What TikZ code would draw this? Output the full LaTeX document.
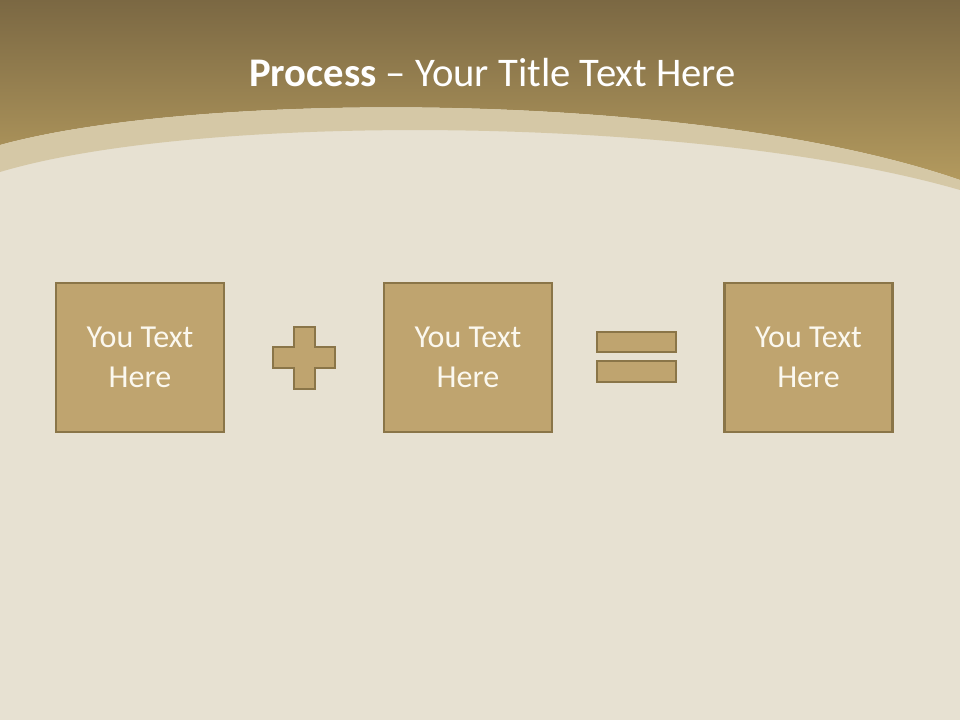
\documentclass[tikz,border=0pt]{standalone}
\usepackage{fontspec}
\setmainfont{Carlito}
\usepackage{xcolor}
\usepackage{tikz}
\usetikzlibrary{positioning,calc}

\definecolor{sand}{HTML}{E7E1D2}
\definecolor{band}{HTML}{D5C8A6}
\definecolor{headtop}{HTML}{7B6843}
\definecolor{headbot}{HTML}{B39A5E}
\definecolor{boxfill}{HTML}{BFA46F}
\definecolor{boxline}{HTML}{8A7548}
\definecolor{boxtext}{HTML}{FBF8EF}

\begin{document}
\begin{tikzpicture}[
  x=0.75pt, y=-0.75pt,
  textbox/.style = {rectangle, draw=boxline, fill=boxfill, line width=1.6pt,
                    minimum width=126pt, minimum height=111.75pt, inner sep=0pt,
                    font=\fontsize{24}{30}\selectfont, text=boxtext, align=center,
                    execute at begin node=\rule{0pt}{24pt}},
  symbol/.style  = {draw=boxline, fill=boxfill, line width=1.6pt},
  title/.style   = {font=\fontsize{30.5}{36}\selectfont, text=white, anchor=base}
]
% background and header
\fill[sand] (0,0) rectangle (960,720);
\shade[top color=headtop, bottom color=headbot]
  (0,0) -- (960,0) -- (960,180) .. controls (700,90) and (200,90) .. (0,145) -- cycle;
\fill[band]
  (0,145) .. controls (200,90) and (700,90) .. (960,180) -- (960,190)
  .. controls (700,115) and (200,112) .. (0,172) -- cycle;
\useasboundingbox (0,0) rectangle (960,720);

\node[title] (head) at (492.5,87) {\textbf{Process} -- Your Title Text Here};

\node[textbox] (first)  at (140,357.5)   {You Text\\Here};
\node[textbox] (second) at (468,357.5)   {You Text\\Here};
\node[textbox] (result) at (808.5,357.5) {You Text\\Here};

% plus sign
\draw[symbol] (294,327) -- (315,327) -- (315,347) -- (335,347) -- (335,368)
  -- (315,368) -- (315,389) -- (294,389) -- (294,368) -- (273,368)
  -- (273,347) -- (294,347) -- cycle;
% equals sign
\draw[symbol] (597,332) rectangle (676,352);
\draw[symbol] (597,361) rectangle (676,382);
\end{tikzpicture}
\end{document}
